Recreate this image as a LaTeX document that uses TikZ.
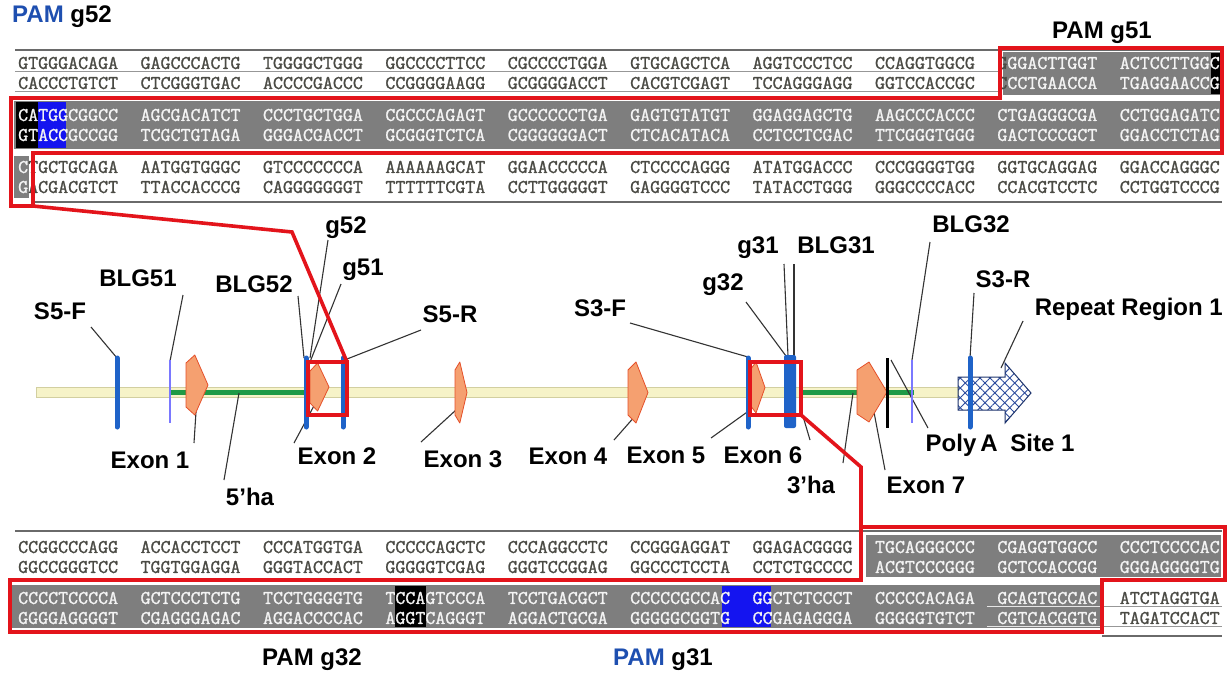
\documentclass[tikz,border=0pt]{standalone}
\usepackage{fontspec}
\setmainfont{Liberation Sans}
\newfontfamily\seqfont[FakeBold=1.2]{Latin Modern Mono}
\usetikzlibrary{patterns.meta}
\definecolor{seqdark}{HTML}{4A4A44}
\definecolor{seqwhite}{HTML}{F4F4F4}
\definecolor{hlgray}{HTML}{7E7E7E}
\definecolor{redl}{HTML}{E3141B}
\definecolor{barblue}{HTML}{1F63C8}
\definecolor{blgblue}{HTML}{7A78FF}
\definecolor{hagreen}{HTML}{1E9A46}
\definecolor{exfill}{HTML}{F5A070}
\definecolor{exedge}{HTML}{E5502A}
\definecolor{bbfill}{HTML}{F6F3C8}
\definecolor{bbedge}{HTML}{D2CFA0}
\definecolor{pamblue}{HTML}{1E4FB0}
\definecolor{hlblue}{HTML}{1414F0}
\definecolor{hatch}{HTML}{2B4A9C}
\definecolor{leadc}{HTML}{333333}
\definecolor{rulec}{HTML}{6A6A6A}
\newcommand\W[1]{\textcolor{seqwhite}{#1}}
\newcommand\seqrow[4]{%
  \foreach \g [count=\i from 0] in {#4} {
    \node[#3] (#1\i) at ({18+\i*122.4}, #2) {\g};
  }}
\newcommand\exonarrow[5]{%
  \draw[exon] (#2,{#4+8}) -- ({#2+0.4*(#3-#2)},#4) -- (#3,{(#4+#5)/2}) -- ({#2+0.4*(#3-#2)},#5) -- (#2,{#5-8}) -- cycle;
  \coordinate (#1) at ({(#2+#3)/2},{(#4+#5)/2});}
\begin{document}
\begin{tikzpicture}[x=1pt,y=-1pt,
  seq/.style={font=\seqfont\fontsize{19.4}{19.4}\selectfont, anchor=west, inner sep=0pt, text=seqdark},
  seqw/.style={seq, text=seqwhite},
  lbl/.style={font=\bfseries\fontsize{24}{26}\selectfont, text=black, inner sep=0pt},
  lead/.style={draw=leadc, line width=1.1pt},
  redline/.style={draw=redl, line width=3.6pt, line join=miter},
  rule/.style={draw=rulec, line width=1.8pt},
  urule/.style={draw=rulec!70, line width=0.9pt},
  lrule/.style={draw=white!80!gray, line width=0.9pt},
  bar/.style={draw=barblue, line width=5pt, line cap=round},
  blg/.style={draw=blgblue, line width=1.4pt},
  ha/.style={draw=hagreen, line width=5pt},
  exon/.style={fill=exfill, draw=exedge, line width=0.8pt, line join=round},
  ]
\useasboundingbox (0,0) rectangle (1230,675);
\fill[white] (0,0) rectangle (1230,675);

% ---------- top sequence ----------
\node[lbl, anchor=west] (pamg52) at (12,17) {\textcolor{pamblue}{PAM} g52};
\node[lbl, anchor=east] (pamg51) at (1152,33) {PAM g51};
\draw[rule] (15,50) -- (1222,50);
\fill[hlgray] (1003,52) rectangle (1221,95);
\fill[black] (1211,53) rectangle (1221.5,94);
\fill[hlgray] (14,101) rectangle (1221,149);
\fill[black] (16,102) rectangle (38.4,148);
\fill[hlblue] (38.4,102) rectangle (66,148);
\fill[hlgray] (14,156) rectangle (28.5,198);
\draw[urule] (15,71) -- (1000,71);
\draw[urule] (15,91) -- (1000,91);
\seqrow{ta}{63}{seq}{GTGGGACAGA,GAGCCCACTG,TGGGGCTGGG,GGCCCCTTCC,CGCCCCTGGA,GTGCAGCTCA,AGGTCCCTCC,CCAGGTGGCG,{G\W{GGACTTGGT}},{\W{ACTCCTTGGC}}}
\seqrow{tb}{83}{seq}{CACCCTGTCT,CTCGGGTGAC,ACCCCGACCC,CCGGGGAAGG,GCGGGGACCT,CACGTCGAGT,TCCAGGGAGG,GGTCCACCGC,{C\W{CCTGAACCA}},{\W{TGAGGAACCG}}}
\seqrow{tc}{115}{seqw}{CATGGCGGCC,AGCGACATCT,CCCTGCTGGA,CGCCCAGAGT,GCCCCCCTGA,GAGTGTATGT,GGAGGAGCTG,AAGCCCACCC,CTGAGGGCGA,CCTGGAGATC}
\seqrow{td}{135}{seqw}{GTACCGCCGG,TCGCTGTAGA,GGGACGACCT,GCGGGTCTCA,CGGGGGGACT,CTCACATACA,CCTCCTCGAC,TTCGGGTGGG,GACTCCCGCT,GGACCTCTAG}
\seqrow{te}{167}{seq}{{\W{C}TGCTGCAGA},AATGGTGGGC,GTCCCCCCCA,AAAAAAGCAT,GGAACCCCCA,CTCCCCAGGG,ATATGGACCC,CCCGGGGTGG,GGTGCAGGAG,GGACCAGGGC}
\seqrow{tf}{187}{seq}{{\W{G}ACGACGTCT},TTACCACCCG,CAGGGGGGGT,TTTTTTCGTA,CCTTGGGGGT,GAGGGGTCCC,TATACCTGGG,GGGCCCCACC,CCACGTCCTC,CCTGGTCCCG}
\draw[rule] (35,202) -- (1222,202);
\draw[redline] (1000,48) -- (1222,48) -- (1222,153) -- (33,153) -- (33,206) -- (11,206) -- (11,98) -- (1000,98) -- cycle;

% ---------- map ----------
\draw[fill=bbfill, draw=bbedge, line width=0.8pt] (36,387) rectangle (958,397);
\draw[ha] (170,392) -- (306,392);
\draw[ha] (801,392) -- (914,392);

% labels
\node[lbl] (lS5F) at (60,311) {S5-F};
\node[lbl] (lBLG51) at (138,278) {BLG51};
\node[lbl] (lBLG52) at (254,284) {BLG52};
\node[lbl] (lg52) at (346,228) {g52};
\node[lbl] (lg51) at (363,270) {g51};
\node[lbl] (lS5R) at (450,314) {S5-R};
\node[lbl] (lE1) at (150,460) {Exon 1};
\node[lbl] (l5ha) at (250,497) {5'ha};
\node[lbl] (lE2) at (337,456) {Exon 2};
\node[lbl] (lE3) at (463,459) {Exon 3};
\node[lbl] (lE4) at (568,456) {Exon 4};
\node[lbl] (lE5) at (666,455) {Exon 5};
\node[lbl] (lE6) at (763,455) {Exon 6};
\node[lbl] (l3ha) at (811,485) {3'ha};
\node[lbl] (lE7) at (926,485) {Exon 7};
\node[lbl] (lPA) at (1000,445) {Poly\,A\hspace{6pt} Site 1};
\node[lbl] (lS3F) at (600,308) {S3-F};
\node[lbl] (lg32) at (723,285) {g32};
\node[lbl] (lg31) at (758,248) {g31};
\node[lbl] (lBLG31) at (836,245) {BLG31};
\node[lbl] (lBLG32) at (971,224) {BLG32};
\node[lbl] (lS3R) at (1003,279) {S3-R};
\node[lbl, anchor=east] (lRR) at (1223,309) {Repeat Region 1};

% leader end points
\coordinate (aS5F) at (91,327);   \coordinate (bS5F) at (117,358);
\coordinate (aBLG51) at (183,295); \coordinate (bBLG51) at (170,361);
\coordinate (aBLG52) at (298,296); \coordinate (bBLG52) at (304,358);
\coordinate (ag52) at (328,240);  \coordinate (bg52) at (310,358);
\coordinate (ag51) at (341,284);  \coordinate (bg51) at (310,362);
\coordinate (aS5R) at (421,330);  \coordinate (bS5R) at (347,359);
\coordinate (aE1) at (196,412);   \coordinate (bE1) at (194,443);
\coordinate (a5ha) at (239,393);  \coordinate (b5ha) at (224,480);
\coordinate (aE2) at (316,402);   \coordinate (bE2) at (294,443);
\coordinate (aE3) at (456,410);   \coordinate (bE3) at (421,442);
\coordinate (aE4) at (636,415);   \coordinate (bE4) at (614,440);
\coordinate (aE5) at (750,410);   \coordinate (bE5) at (711,438);
\coordinate (aE6) at (802,413);   \coordinate (bE6) at (810,440);
\coordinate (a3ha) at (853,393);  \coordinate (b3ha) at (843,463);
\coordinate (aE7) at (873,407);   \coordinate (bE7) at (885,470);
\coordinate (aPA) at (891,360);   \coordinate (bPA) at (928,428);
\coordinate (aS3F) at (630,323);  \coordinate (bS3F) at (748,357);
\coordinate (ag32) at (746,302);  \coordinate (bg32) at (786,356);
\coordinate (ag31) at (784,264);  \coordinate (bg31) at (788,356);
\coordinate (aBLG31) at (794,264); \coordinate (bBLG31) at (794,356);
\coordinate (aBLG32) at (930,242); \coordinate (bBLG32) at (912,360);
\coordinate (aS3R) at (974,293);  \coordinate (bS3R) at (970,358);
\coordinate (aRR) at (1023,321);  \coordinate (bRR) at (1001,368);
\foreach \n in {S5F,BLG51,BLG52,g52,g51,S5R,E1,5ha,E2,E3,E4,E5,E6,3ha,E7,PA,S3F,g32,g31,BLG31,BLG32,S3R,RR}
  \draw[lead] (a\n) -- (b\n);

% features
\draw[bar] (117,358) -- (117,427);
\draw[blg] (170,360) -- (170,423);
\exonarrow{ex1}{186}{208}{355}{415}
\draw[bar] (306,358) -- (306,427);
\exonarrow{ex2}{310}{329}{363}{411}
\draw[bar] (343,358) -- (343,427);
\exonarrow{ex3}{455}{467}{362}{423}
\exonarrow{ex4}{628}{648}{362}{423}
\draw[bar] (748,358) -- (748,427);
\exonarrow{ex5}{750}{765}{362}{413}
\fill[barblue, rounded corners=2pt] (784,355) rectangle (796,428);
\exonarrow{ex7}{857}{887}{362}{422}
\draw[black, line width=3pt] (887,358) -- (887,428);
\draw[blg] (912,360) -- (912,423);
\path[pattern={Lines[angle=45,distance=7pt,line width=0.9pt]}, pattern color=hatch]
  (958,377) -- (1005,377) -- (1005,363) -- (1031,393) -- (1005,423) -- (1005,410) -- (958,410) -- cycle;
\path[pattern={Lines[angle=-45,distance=7pt,line width=0.9pt]}, pattern color=hatch]
  (958,377) -- (1005,377) -- (1005,363) -- (1031,393) -- (1005,423) -- (1005,410) -- (958,410) -- cycle;
\draw[draw=hatch!70!black, line width=1pt] (958,377) -- (1005,377) -- (1005,363) -- (1031,393) -- (1005,423) -- (1005,410) -- (958,410) -- cycle;
\draw[bar] (970,358) -- (970,427);
\draw[redline] (308,362) rectangle (347,415);
\draw[redline] (750,362) rectangle (801,415);

% red connectors
\coordinate (k1a) at (33,206); \coordinate (k1b) at (292,232); \coordinate (k1c) at (347,362);
\draw[redline] (k1a) -- (k1b) -- (k1c);
\coordinate (k2a) at (801,415); \coordinate (k2b) at (861,467); \coordinate (k2c) at (861,527);
\draw[redline] (k2a) -- (k2b) -- (k2c);

% ---------- bottom sequence ----------
\draw[rule] (15,531) -- (1222,531);
\fill[hlgray] (866,535) rectangle (1221,577);
\fill[hlgray] (12,585) rectangle (1100,628);
\fill[black] (395.4,586) rectangle (426,627);
\fill[hlblue] (722,586) rectangle (771,627);
\seqrow{ba}{547}{seq}{CCGGCCCAGG,ACCACCTCCT,CCCATGGTGA,CCCCCAGCTC,CCCAGGCCTC,CCGGGAGGAT,GGAGACGGGG,{\W{TGCAGGGCCC}},{\W{CGAGGTGGCC}},{\W{CCCTCCCCAC}}}
\seqrow{bb}{567}{seq}{GGCCGGGTCC,TGGTGGAGGA,GGGTACCACT,GGGGGTCGAG,GGGTCCGGAG,GGCCCTCCTA,CCTCTGCCCC,{\W{ACGTCCCGGG}},{\W{GCTCCACCGG}},{\W{GGGAGGGGTG}}}
\seqrow{bc}{598}{seq}{{\W{CCCCTCCCCA}},{\W{GCTCCCTCTG}},{\W{TCCTGGGGTG}},{\W{TCCAGTCCCA}},{\W{TCCTGACGCT}},{\W{CCCCCGCCAC}},{\W{GGCTCTCCCT}},{\W{CCCCCACAGA}},{\W{GCAGTGCCAC}},ATCTAGGTGA}
\seqrow{bd}{618}{seq}{{\W{GGGGAGGGGT}},{\W{CGAGGGAGAC}},{\W{AGGACCCCAC}},{\W{AGGTCAGGGT}},{\W{AGGACTGCGA}},{\W{GGGGGCGGTG}},{\W{CCGAGAGGGA}},{\W{GGGGGTGTCT}},{\W{CGTCACGGTG}},TAGATCCACT}
\draw[lrule] (987,606) -- (1100,606);
\draw[lrule] (987,626) -- (1100,626);
\draw[urule] (1102,606) -- (1222,606);
\draw[urule] (1102,626) -- (1222,626);
\draw[rule] (1102,636) -- (1222,636);
\draw[redline] (861,527) -- (1225,527) -- (1225,580) -- (1102,580) -- (1102,632) -- (10,632) -- (10,580) -- (861,580) -- cycle;
\node[lbl] (pamg32) at (312,660) {PAM g32};
\node[lbl] (pamg31) at (663,660) {\textcolor{pamblue}{PAM} g31};
\end{tikzpicture}
\end{document}
